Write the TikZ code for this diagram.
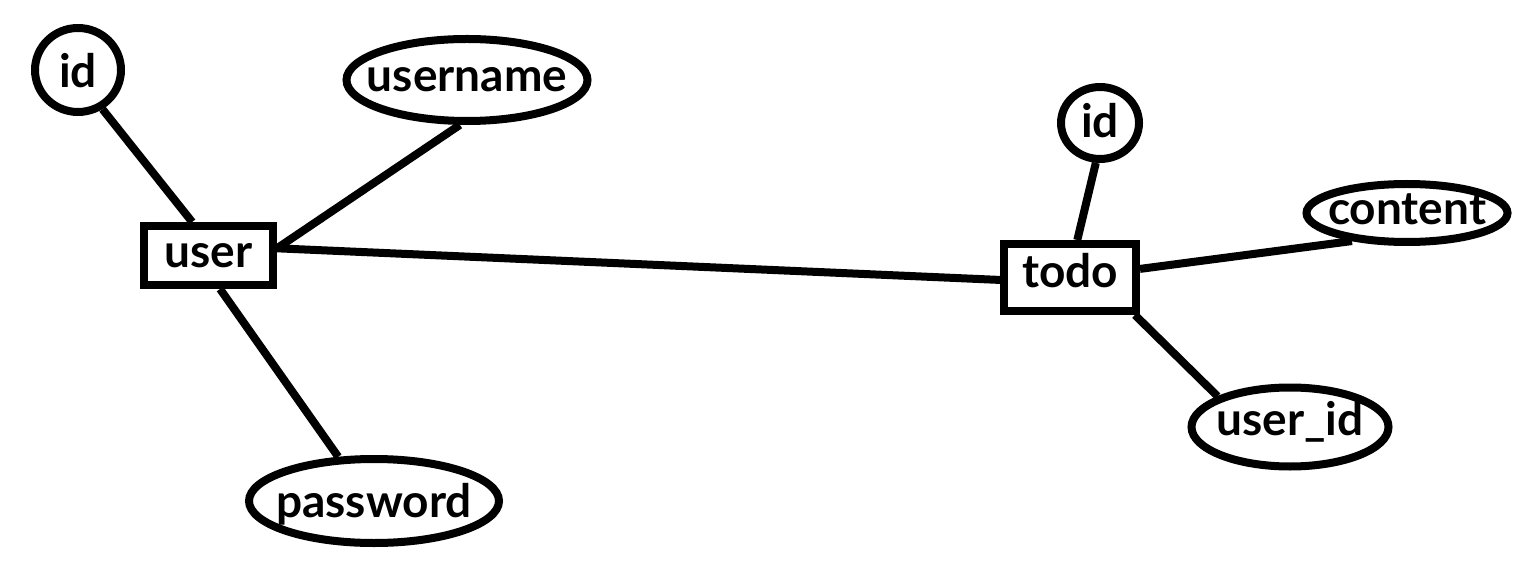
\documentclass[tikz,border=0pt]{standalone}
\usepackage{fontspec}
\setmainfont{Lato}
\usetikzlibrary{shapes.geometric}
\tikzset{
  base/.style={draw=black, line width=4pt, inner sep=0pt, text height=12pt, text depth=0pt,
    font=\fontsize{23pt}{27pt}\selectfont\bfseries},
  entity/.style={base, rectangle},
  attr/.style={base, ellipse},
  conn/.style={draw=black, line width=4pt}
}
\begin{document}
\begin{tikzpicture}[x=0.5pt,y=-0.5pt]
\useasboundingbox[fill=white] (0,0) rectangle (1534,587);
% nodes
\node[attr, text height=18pt, minimum width=43pt, minimum height=42pt] (uid) at (78,70) {\makebox[0pt]{id}};
\node[attr, text height=12pt, minimum width=120.5pt, minimum height=41pt] (uname) at (467,80) {\makebox[0pt]{username}};
\node[entity, text height=12.5pt, minimum width=64.5pt, minimum height=29.5pt] (user) at (208.5,255.5) {user};
\node[attr, text height=16pt, minimum width=125pt, minimum height=42pt] (pw) at (374,501) {\makebox[0pt]{password}};
\node[entity, text height=10.5pt, minimum width=66pt, minimum height=33.5pt] (todo) at (1070,277.5) {todo};
\node[attr, text height=15pt, minimum width=39pt, minimum height=36pt] (tid) at (1100,123) {\makebox[0pt]{id}};
\node[attr, text height=12pt, minimum width=100.5pt, minimum height=29pt] (content) at (1407,213) {\makebox[0pt]{content}};
\node[attr, text height=8pt, minimum width=98.5pt, minimum height=39.5pt] (uidn) at (1290,427) {\makebox[0pt]{user\_id}};
% connectors
\draw[conn] (uid.-58) -- (user.116);
\draw[conn] (uname.-99) -- (user.6);
\draw[conn] (user.-71) -- (pw.129);
\draw[conn] (user.6) -- (todo.-178);
\draw[conn] (tid.-96) -- (todo.79);
\draw[conn] (todo.7) -- (content.-153);
\draw[conn] (todo.-30) -- (uidn.157);
\end{tikzpicture}
\end{document}
